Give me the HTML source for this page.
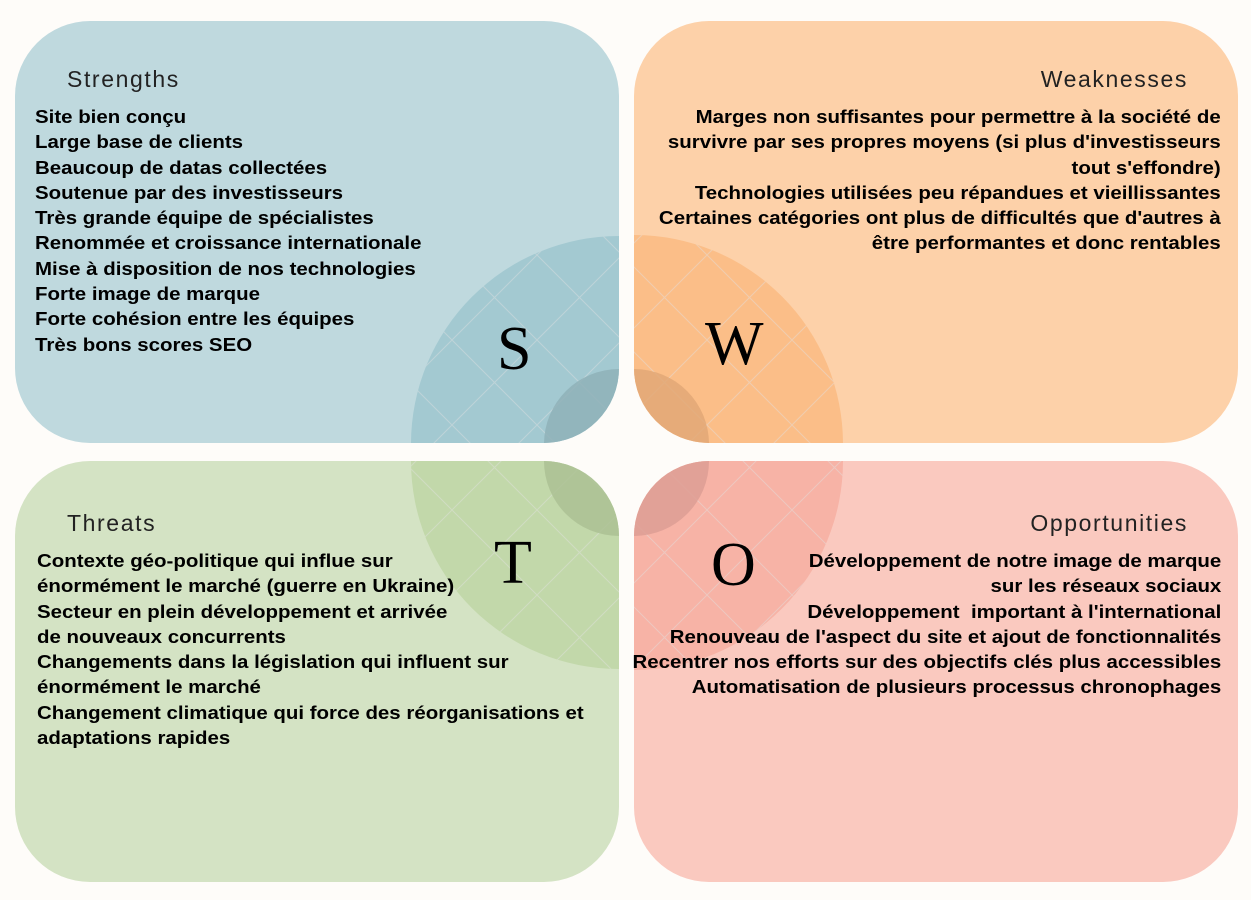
<!DOCTYPE html>
<html><head><meta charset="utf-8"><style>
html,body{margin:0;padding:0;background:#fefcf9;}
body{width:1251px;height:900px;position:relative;overflow:hidden;font-family:"Liberation Sans",sans-serif;}
svg{position:absolute;left:0;top:0;}
.t{position:absolute;font-size:23px;color:#222;letter-spacing:1.6px;white-space:nowrap;}
.b{position:absolute;font-weight:bold;font-size:18.6px;line-height:25.3px;color:#000;white-space:nowrap;transform:scaleX(1.1);transform-origin:left top;}
.r{text-align:right;transform-origin:right top;}
.L{position:absolute;font-size:62px;color:#000;line-height:1;font-family:"Liberation Serif",serif;}
</style></head><body>
<svg width="1251" height="900" viewBox="0 0 1251 900">
<defs>
<pattern id="g" patternUnits="userSpaceOnUse" width="85" height="85" x="27" y="0">
<path d="M0 0 L85 85 M85 0 L0 85" stroke="#e0e0e0" stroke-width="1" opacity="0.45" fill="none"/>
</pattern>
<clipPath id="cS"><rect x="15" y="21" width="604" height="422" rx="75"/></clipPath>
<clipPath id="cW"><rect x="634" y="21" width="604" height="422" rx="75"/></clipPath>
<clipPath id="cT"><rect x="15" y="461" width="604" height="421" rx="75"/></clipPath>
<clipPath id="cO"><rect x="634" y="461" width="604" height="421" rx="75"/></clipPath>
</defs>
<g clip-path="url(#cS)">
<rect x="15" y="21" width="604" height="422" fill="#bfd9de"/>
<circle cx="619" cy="444" r="208" fill="#a3c9d1"/>
<circle cx="619" cy="444" r="208" fill="url(#g)"/>
<circle cx="619" cy="444" r="75" fill="#8fb1b8" opacity="0.85"/>
</g>
<g clip-path="url(#cW)">
<rect x="634" y="21" width="604" height="422" fill="#fdd1a9"/>
<circle cx="634" cy="444" r="209" fill="#fbbe88"/>
<circle cx="634" cy="444" r="209" fill="url(#g)"/>
<circle cx="634" cy="444" r="75" fill="#e2a877" opacity="0.85"/>
</g>
<g clip-path="url(#cT)">
<rect x="15" y="461" width="604" height="421" fill="#d4e3c4"/>
<circle cx="619" cy="461" r="208" fill="#c2d8aa"/>
<circle cx="619" cy="461" r="208" fill="url(#g)"/>
<circle cx="619" cy="461" r="75" fill="#abc194" opacity="0.85"/>
</g>
<g clip-path="url(#cO)">
<rect x="634" y="461" width="604" height="421" fill="#fac9bf"/>
<circle cx="634" cy="461" r="209" fill="#f7b3a6"/>
<circle cx="634" cy="461" r="209" fill="url(#g)"/>
<circle cx="634" cy="461" r="75" fill="#dd9e94" opacity="0.85"/>
</g>
</svg>

<div class="t" style="left:67px;top:66px;">Strengths</div>
<div class="t" style="right:63px;top:66px;">Weaknesses</div>
<div class="t" style="left:67px;top:510px;">Threats</div>
<div class="t" style="right:63px;top:510px;">Opportunities</div>

<div class="L" style="left:497px;top:318px;">S</div>
<div class="L" style="left:705px;top:313px;">W</div>
<div class="L" style="left:494px;top:532px;">T</div>
<div class="L" style="left:711px;top:534px;">O</div>

<div class="b" style="left:35px;top:104px;">Site bien conçu<br>Large base de clients<br>Beaucoup de datas collectées<br>Soutenue par des investisseurs<br>Très grande équipe de spécialistes<br>Renommée et croissance internationale<br>Mise à disposition de nos technologies<br>Forte image de marque<br>Forte cohésion entre les équipes<br>Très bons scores SEO</div>

<div class="b r" style="right:30px;top:104px;">Marges non suffisantes pour permettre à la société de<br>survivre par ses propres moyens (si plus d'investisseurs<br>tout s'effondre)<br>Technologies utilisées peu répandues et vieillissantes<br>Certaines catégories ont plus de difficultés que d'autres à<br>être performantes et donc rentables</div>

<div class="b" style="left:37px;top:548px;">Contexte géo-politique qui influe sur<br>énormément le marché (guerre en Ukraine)<br>Secteur en plein développement et arrivée<br>de nouveaux concurrents<br>Changements dans la législation qui influent sur<br>énormément le marché<br>Changement climatique qui force des réorganisations et<br>adaptations rapides</div>

<div class="b r" style="right:30px;top:548px;">Développement de notre image de marque<br>sur les réseaux sociaux<br>Développement&nbsp; important à l'international<br>Renouveau de l'aspect du site et ajout de fonctionnalités<br>Recentrer nos efforts sur des objectifs clés plus accessibles<br>Automatisation de plusieurs processus chronophages</div>
</body></html>
